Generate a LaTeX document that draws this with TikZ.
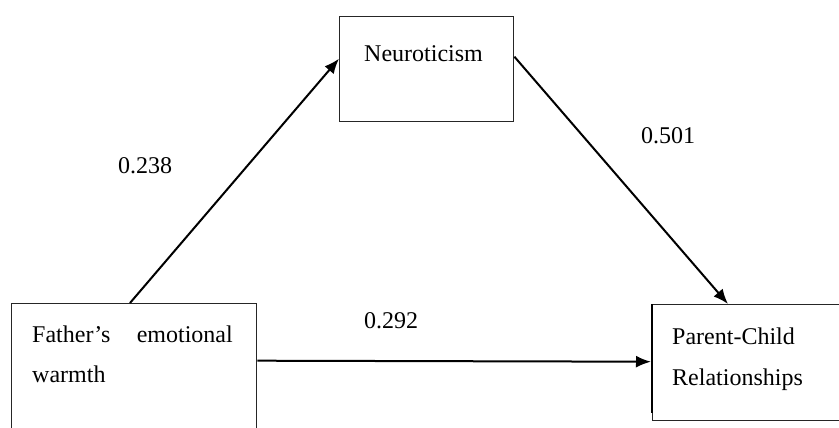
\documentclass[tikz,border=0pt]{standalone}
\usepackage{fontspec}
\setmainfont{Liberation Serif}
\usetikzlibrary{arrows.meta,calc}
\begin{document}
\begin{tikzpicture}[x=1pt,y=-1pt,
  box/.style={draw=black!85,line width=1.4pt,inner sep=0pt,anchor=north west},
  lbl/.style={inner sep=0pt,font=\fontsize{24}{28}\selectfont},
  arr/.style={draw=black,line width=2pt,-{Latex[length=15pt,width=12pt]}}]
\clip (0,0) rectangle (839,428);
\fill[white] (0,0) rectangle (839,428);
% boxes
\node[box,minimum width=174pt,minimum height=105pt] (neu) at (339,16) {};
\node[box,minimum width=245pt,minimum height=140pt] (fw) at (11,303) {};
\node[box,minimum width=200pt,minimum height=116pt] (pc) at (652,304) {};
\draw[line width=2.4pt] (pc.north west) -- ([yshift=8pt]pc.south west);
% texts
\node[lbl,anchor=base west] (neut) at (364,62) {Neuroticism};
\node[lbl,anchor=base west] (fwa) at (32,342) {Father’s};
\node[lbl,anchor=base east] (fwb) at (233,342) {emotional};
\node[lbl,anchor=base west] (fwc) at (32,382) {warmth};
\node[lbl,anchor=base west] (pca) at (672,344) {Parent-Child};
\node[lbl,anchor=base west] (pcb) at (672,385) {Relationships};
\node[lbl,anchor=base west] (c1) at (118,173) {0.238};
\node[lbl,anchor=base west] (c2) at (641,143) {0.501};
\node[lbl,anchor=base west] (c3) at (364,328) {0.292};
% connectors
\draw[arr] ([xshift=119pt]fw.north west) -- ([yshift=10.5pt]neu.west);
\draw[arr] ([yshift=12.5pt]neu.east) -- ([xshift=76pt]pc.north west);
\draw[arr] ([yshift=13pt]fw.east) -- ([yshift=1pt,xshift=-1pt]pc.west);
\end{tikzpicture}
\end{document}
